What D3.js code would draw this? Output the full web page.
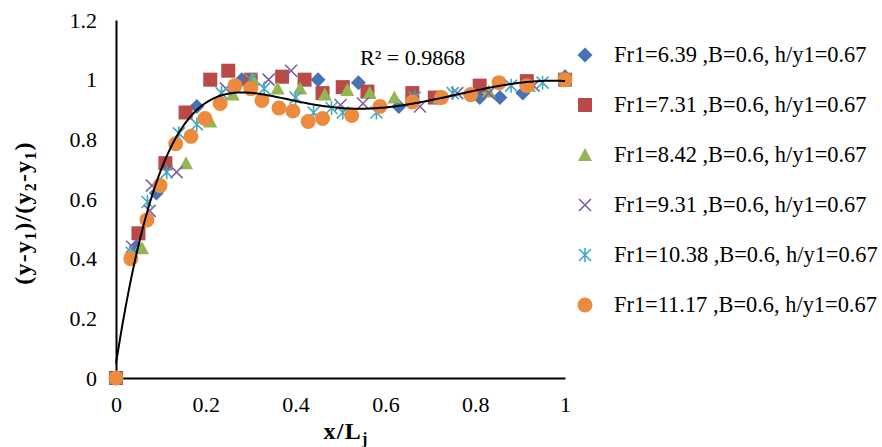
<!DOCTYPE html>
<html>
<head>
<meta charset="utf-8">
<script src="https://cdn.jsdelivr.net/npm/d3@7"></script>
<style>
  html, body { margin: 0; padding: 0; background: #fff; }
  svg text { font-family: "Liberation Serif", "Times New Roman", Times, "DejaVu Serif", serif; }
</style>
</head>
<body>
<svg id="chart" width="882" height="447"></svg>
<script>
// Series labels
const seriesNames = [
  "Fr1=6.39 ,B=0.6, h/y1=0.67",
  "Fr1=7.31 ,B=0.6, h/y1=0.67",
  "Fr1=8.42 ,B=0.6, h/y1=0.67",
  "Fr1=9.31 ,B=0.6, h/y1=0.67",
  "Fr1=10.38 ,B=0.6, h/y1=0.67",
  "Fr1=11.17 ,B=0.6, h/y1=0.67"
];

// Measured profiles: x/Lj and (y-y1)/(y2-y1)
const x1 = [0, 0.045, 0.09, 0.18, 0.28, 0.45, 0.54, 0.63, 0.81, 0.855, 0.906, 1.0];
const y1 = [0, 0.44, 0.62, 0.91, 1.0, 1.0, 0.99, 0.91, 0.94, 0.94, 0.955, 1.01];

const x2 = [0, 0.05, 0.11, 0.155, 0.21, 0.25, 0.30, 0.37, 0.42, 0.46, 0.505, 0.56, 0.66, 0.71, 0.81, 0.915, 1.0];
const y2 = [0, 0.485, 0.72, 0.89, 1.0, 1.03, 1.0, 1.01, 1.0, 0.955, 0.975, 0.96, 0.955, 0.94, 0.98, 0.995, 1.0];

const x3 = [0, 0.058, 0.156, 0.21, 0.26, 0.305, 0.36, 0.41, 0.465, 0.515, 0.565, 0.62, 0.72, 0.83, 0.92, 1.0];
const y3 = [0, 0.435, 0.72, 0.86, 0.95, 1.0, 0.97, 0.97, 0.95, 0.965, 0.955, 0.94, 0.94, 0.96, 0.98, 1.0];

const x4 = [0, 0.036, 0.075, 0.08, 0.135, 0.245, 0.34, 0.39, 0.50, 0.55, 0.677, 0.76, 0.83, 0.93, 1.0];
const y4 = [0, 0.44, 0.56, 0.645, 0.69, 0.97, 1.0, 1.03, 0.915, 0.92, 0.91, 0.955, 0.955, 0.98, 1.0];

const x5 = [0, 0.035, 0.07, 0.113, 0.14, 0.18, 0.235, 0.30, 0.33, 0.40, 0.44, 0.48, 0.505, 0.58, 0.665, 0.75, 0.88, 0.95, 1.0];
const y5 = [0, 0.42, 0.59, 0.69, 0.82, 0.85, 0.955, 1.0, 0.97, 0.94, 0.89, 0.905, 0.89, 0.89, 0.94, 0.955, 0.98, 0.99, 1.0];

const x6 = [0, 0.033, 0.069, 0.098, 0.133, 0.167, 0.198, 0.232, 0.265, 0.30, 0.325, 0.363, 0.394, 0.428, 0.46, 0.525, 0.588, 0.66, 0.725, 0.79, 0.853, 0.915, 1.0];
const y6 = [0, 0.40, 0.53, 0.645, 0.785, 0.81, 0.87, 0.92, 0.98, 0.97, 0.93, 0.905, 0.895, 0.86, 0.87, 0.88, 0.91, 0.925, 0.94, 0.95, 0.99, 0.98, 1.0];

// Axis ticks
const xTicks = [0, 0.2, 0.4, 0.6, 0.8, 1];
const yTicks = [0, 0.2, 0.4, 0.6, 0.8, 1, 1.2];
const xTickLabels = ["0", "0.2", "0.4", "0.6", "0.8", "1"];
const yTickLabels = ["0", "0.2", "0.4", "0.6", "0.8", "1", "1.2"];

// Order-6 polynomial trendline on the Fr1=10.38 run
const r2Text = "R\u00B2 = 0.9868";
const trendOrder = 6;
const trendSeries = 4;

const seriesX = [x1, x2, x3, x4, x5, x6];
const seriesY = [y1, y2, y3, y4, y5, y6];
const colors = ["#4573B5", "#B94A48", "#93B652", "#7D5FA0", "#45A8C2", "#EC8A3E"];
const shapes = ["diamond", "square", "triangle", "x", "star", "circle"];

const FONT = '"Liberation Serif", "Times New Roman", Times, serif';
const svg = d3.select("#chart");
const plot = { left: 116, right: 565, top: 20, bottom: 378 };

const x = d3.scaleLinear().domain([0, 1]).range([plot.left, plot.right]);
const y = d3.scaleLinear().domain([0, 1.2]).range([plot.bottom, plot.top]);

const xAxis = d3.axisBottom(x).tickValues(xTicks).tickSize(0).tickPadding(18)
  .tickFormat((d, i) => xTickLabels[i]);
const yAxis = d3.axisLeft(y).tickValues(yTicks).tickSize(0).tickPadding(19)
  .tickFormat((d, i) => yTickLabels[i]);

const gx = svg.append("g").attr("transform", `translate(0,${plot.bottom})`).call(xAxis);
const gy = svg.append("g").attr("transform", `translate(${plot.left},0)`).call(yAxis);
[gx, gy].forEach(g => {
  g.attr("font-family", FONT).attr("font-size", 22);
  g.select(".domain").attr("stroke", "#000").attr("stroke-width", 2);
  g.selectAll("text").style("font-family", FONT).attr("font-size", 22).attr("fill", "#000");
});
gx.selectAll("text").attr("dy", "0.71em");

// Marker drawing
function marker(g, shape, color) {
  switch (shape) {
    case "diamond":
      g.append("path").attr("d", "M0,-7.5L7.5,0L0,7.5L-7.5,0Z").attr("fill", color);
      break;
    case "square":
      g.append("rect").attr("x", -7).attr("y", -7).attr("width", 14).attr("height", 14).attr("fill", color);
      break;
    case "triangle":
      g.append("path").attr("d", "M0,-7L7,6L-7,6Z").attr("fill", color);
      break;
    case "x":
      g.append("path").attr("d", "M-6,-6L6,6M-6,6L6,-6").attr("stroke", color).attr("stroke-width", 1.6).attr("fill", "none");
      break;
    case "star":
      g.append("path").attr("d", "M-6,-6L6,6M-6,6L6,-6M0,-7L0,7").attr("stroke", color).attr("stroke-width", 1.6).attr("fill", "none");
      break;
    case "circle":
      g.append("circle").attr("r", 7.5).attr("fill", color);
      break;
  }
}

// Points
seriesX.forEach((xs, s) => {
  const g = svg.append("g").attr("class", "series-" + s);
  xs.forEach((xv, i) => {
    const m = g.append("g").attr("transform", `translate(${x(xv)},${y(seriesY[s][i])})`);
    marker(m, shapes[s], colors[s]);
  });
});

// Least-squares polynomial fit
function polyFit(xs, ys, order) {
  const n = order + 1;
  const A = Array.from({ length: n }, () => new Array(n + 1).fill(0));
  for (let k = 0; k < xs.length; k++) {
    const p = [];
    for (let j = 0; j < n; j++) p.push(Math.pow(xs[k], j));
    for (let r = 0; r < n; r++) {
      for (let c = 0; c < n; c++) A[r][c] += p[r] * p[c];
      A[r][n] += p[r] * ys[k];
    }
  }
  for (let i = 0; i < n; i++) {
    let piv = i;
    for (let r = i + 1; r < n; r++) if (Math.abs(A[r][i]) > Math.abs(A[piv][i])) piv = r;
    [A[i], A[piv]] = [A[piv], A[i]];
    for (let r = 0; r < n; r++) {
      if (r === i) continue;
      const f = A[r][i] / A[i][i];
      for (let c = i; c <= n; c++) A[r][c] -= f * A[i][c];
    }
  }
  return A.map((row, i) => row[n] / row[i]);
}
const coef = polyFit(seriesX[trendSeries], seriesY[trendSeries], trendOrder);
const poly = t => coef.reduce((acc, c, j) => acc + c * Math.pow(t, j), 0);
const curve = d3.range(0, 1.0001, 0.005).map(t => [t, poly(t)]);
svg.append("path")
  .datum(curve)
  .attr("fill", "none")
  .attr("stroke", "#000")
  .attr("stroke-width", 2)
  .attr("d", d3.line().x(d => x(d[0])).y(d => y(d[1])));

// Fit label
svg.append("text").attr("x", 360).attr("y", 65)
  .attr("font-size", 22).attr("fill", "#000").text(r2Text);

// Axis titles
const xt = svg.append("text").attr("x", 346).attr("y", 439).attr("text-anchor", "middle")
  .attr("font-size", 24).attr("letter-spacing", 1.2).attr("font-weight", "bold").attr("fill", "#000");
xt.append("tspan").text("x/L");
xt.append("tspan").attr("font-size", 16).attr("dy", 5).text("j");

const yt = svg.append("text").attr("transform", "translate(31,213) rotate(-90)")
  .attr("text-anchor", "middle").attr("font-size", 24).attr("letter-spacing", 1.2)
  .attr("font-weight", "bold").attr("fill", "#000");
[["(y-y", 0], ["1", 1], [")/(y", 0], ["2", 1], ["-y", 0], ["1", 1], [")", 0]].forEach(([t, sub], i, arr) => {
  const prevSub = i > 0 ? arr[i - 1][1] : 0;
  const dy = sub && !prevSub ? 5 : (!sub && prevSub ? -5 : 0);
  yt.append("tspan").attr("font-size", sub ? 16 : 24).attr("dy", dy).text(t);
});

// Legend
const legend = svg.append("g");
seriesNames.forEach((name, i) => {
  const cy = 55 + i * 50;
  const m = legend.append("g").attr("transform", `translate(585,${cy})`);
  marker(m, shapes[i], colors[i]);
  legend.append("text").attr("x", 614).attr("y", cy + 7)
    .attr("font-size", 22.4).attr("fill", "#000").text(name);
});
</script>
</body>
</html>
